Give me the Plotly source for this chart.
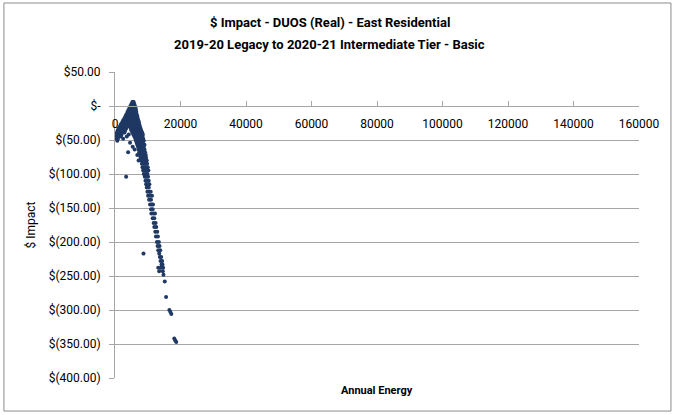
import plotly.graph_objects as go

# scatter: (annual energy, $ impact)
energy = [
    5300, 5500, 5700,
    5000, 5300, 5600, 5900,
    4700, 5000, 5400, 5800, 6100,
    4400, 4800, 5200, 5600, 6000, 6300,
    4100, 4500, 4900, 5300, 5700, 6100, 6400,
    3800, 4200, 4600, 5000, 5400, 5800, 6200, 6500,
    3500, 3900, 4300, 4700, 5100, 5500, 5900, 6300, 6600,
    3200, 3600, 4000, 4400, 4800, 5200, 5600, 6000, 6400, 6800,
    2900, 3300, 3700, 4100, 4500, 4900, 5300, 5700, 6100, 6500, 6900,
    2500, 2900, 3300, 3700, 4100, 4600, 5100, 5600, 6100, 6600, 7100,
    2200, 2600, 3000, 3500, 4000, 4500, 5000, 5500, 6000, 6500, 7000, 7300,
    1800, 2200, 2700, 3200, 3800, 4400, 5000, 5600, 6200, 6800, 7400,
    1500, 1900, 2400, 3000, 3700, 4500, 5200, 5900, 6500, 7100, 7600,
    1100, 1500, 2000, 2600, 3400, 4800, 5600, 6300, 6900, 7400, 7800,
    800, 1200, 1700, 2300, 3100, 5000, 5900, 6600, 7200, 7700, 8000,
    600, 1000, 1500, 2100, 2900, 5300, 6200, 6900, 7500, 8000, 8300,
    400, 800, 1300, 2000, 4200, 5600, 6500, 7100, 7700, 8200, 8500,
    300, 600, 1100, 1800, 3600, 5900, 6700, 7300, 7900, 8400,
    400, 900, 2500, 6200, 6900, 7500, 8100, 8600,
    700, 6400, 7100, 7700, 8300, 8800,
    4600, 6600, 7300, 7900, 8500,
    6800, 7500, 8100, 8700, 9000,
    5400, 7000, 7600, 8200, 8800,
    6000, 7200, 7800, 8400, 9000,
    4000, 7400, 8000, 8600, 9200,
    6800, 7600, 8200, 8800, 9400,
    7800, 8400, 9000, 9500,
    7200, 8000, 8600, 9200, 9700,
    8200, 8800, 9300, 9800,
    8400, 9000, 9500, 10000,
    8600, 9200, 9700, 10200,
    8800, 9400, 9900,
    3400, 9100, 9600, 10100,
    9300, 9800, 10300,
    9500, 10000, 10500,
    9700, 10300,
    9900, 10500, 10900,
    10100, 10700, 11300,
    10400, 11000,
    10700, 11200, 11600,
    11000, 11500,
    11100, 11700, 12200,
    11500, 12000,
    11800, 12400,
    12000, 12600,
    12300, 12900,
    12500, 13100,
    12800, 13400,
    13000, 13600,
    13200, 13800,
    8700, 13500,
    13700, 14100,
    13900, 14400,
    14200, 14500,
    13200, 14000, 14700,
    13500, 14600,
    14800,
    15200,
    15600,
    16600,
    16900,
    17200,
    18100,
    18400,
    18700,
]
impact = (
    [6] * 3 + [3] * 4 + [0] * 5 + [-3] * 6 + [-6] * 7 + [-9] * 8 + [-12] * 9
    + [-15] * 10 + [-18] * 11 + [-21] * 11 + [-24] * 12 + [-27] * 11
    + [-30] * 11 + [-33] * 11 + [-36] * 11 + [-39] * 11 + [-42] * 11
    + [-45] * 10 + [-48] * 8 + [-51] * 6 + [-54] * 5 + [-57] * 5 + [-60] * 5
    + [-64] * 5 + [-68] * 5 + [-72] * 5 + [-76] * 4 + [-80] * 5 + [-85] * 4
    + [-90] * 4 + [-95] * 4 + [-100] * 3 + [-104] * 4 + [-110] * 3
    + [-115] * 3 + [-120] * 2 + [-126] * 3 + [-132] * 3 + [-138] * 2
    + [-145] * 3 + [-152] * 2 + [-158] * 3 + [-165] * 2 + [-172] * 2
    + [-178] * 2 + [-185] * 2 + [-192] * 2 + [-200] * 2 + [-206] * 2
    + [-212] * 2 + [-217] * 2 + [-222] * 2 + [-228] * 2 + [-233] * 2
    + [-238] * 3 + [-243] * 2 + [-248, -258, -281, -300, -303, -306,
                                -342, -345, -347]
)

x_ticks = [0, 20000, 40000, 60000, 80000, 100000, 120000, 140000, 160000]
y_ticks = [50, 0, -50, -100, -150, -200, -250, -300, -350, -400]
y_labels = ["$50.00", "$-", "$(50.00)", "$(100.00)", "$(150.00)", "$(200.00)",
            "$(250.00)", "$(300.00)", "$(350.00)", "$(400.00)"]

title_1 = "$ Impact - DUOS (Real) - East Residential"
title_2 = "2019-20 Legacy to 2020-21 Intermediate Tier - Basic"

FONT = "Roboto, Arial"
GRID = "#A6A6A6"

fig = go.Figure()
fig.add_trace(go.Scatter(
    x=energy, y=impact,
    mode="markers",
    marker=dict(color="#1F3864", size=4, line=dict(width=0)),
    showlegend=False,
))

# y=0 sits at this fraction of the plot height
y0_pos = (0 - (-400)) / (50 - (-400))

fig.update_layout(
    width=673, height=415,
    paper_bgcolor="white", plot_bgcolor="white",
    margin=dict(l=115, r=34, t=72, b=37, autoexpand=False),
    font=dict(family=FONT, size=12, color="#000000"),
    xaxis=dict(
        range=[0, 160000],
        tickvals=x_ticks,
        ticktext=[str(v) for v in x_ticks],
        anchor="free", position=y0_pos,
        showgrid=False, zeroline=False,
        showline=True, linecolor=GRID, linewidth=1,
        ticks="inside", ticklen=5, tickcolor=GRID,
        ticklabelstandoff=7,
        tickfont=dict(family=FONT, size=12),
    ),
    yaxis=dict(
        range=[-400, 50],
        tickvals=y_ticks, ticktext=y_labels,
        showgrid=True, gridcolor=GRID, gridwidth=1,
        zeroline=False,
        showline=True, linecolor=GRID, linewidth=1,
        ticks="outside", ticklen=5, tickcolor=GRID,
        ticklabelstandoff=6,
        tickfont=dict(family=FONT, size=12),
        title=dict(text="$ Impact", font=dict(family=FONT, size=12), standoff=10),
    ),
    annotations=[
        # two title lines, spaced like the original
        dict(text=f"<b>{title_1}</b>", x=0.41, y=1.163,
             xref="paper", yref="paper", xanchor="center", yanchor="middle",
             showarrow=False, font=dict(family=FONT, size=13)),
        dict(text=f"<b>{title_2}</b>", x=0.41, y=1.0915,
             xref="paper", yref="paper", xanchor="center", yanchor="middle",
             showarrow=False, font=dict(family=FONT, size=13)),
        dict(text="<b>Annual Energy</b>", x=0.5, y=-0.04,
             xref="paper", yref="paper", xanchor="center", yanchor="middle",
             showarrow=False, font=dict(family=FONT, size=11)),
    ],
    shapes=[dict(
        type="rect", xref="paper", yref="paper",
        x0=-0.212, x1=1.061, y0=-0.108, y1=1.2255,
        line=dict(color="#8C8C8C", width=1),
    )],
)

fig.write_html("out.html", config={"displayModeBar": False},
               post_script="document.body.style.margin='0';")
